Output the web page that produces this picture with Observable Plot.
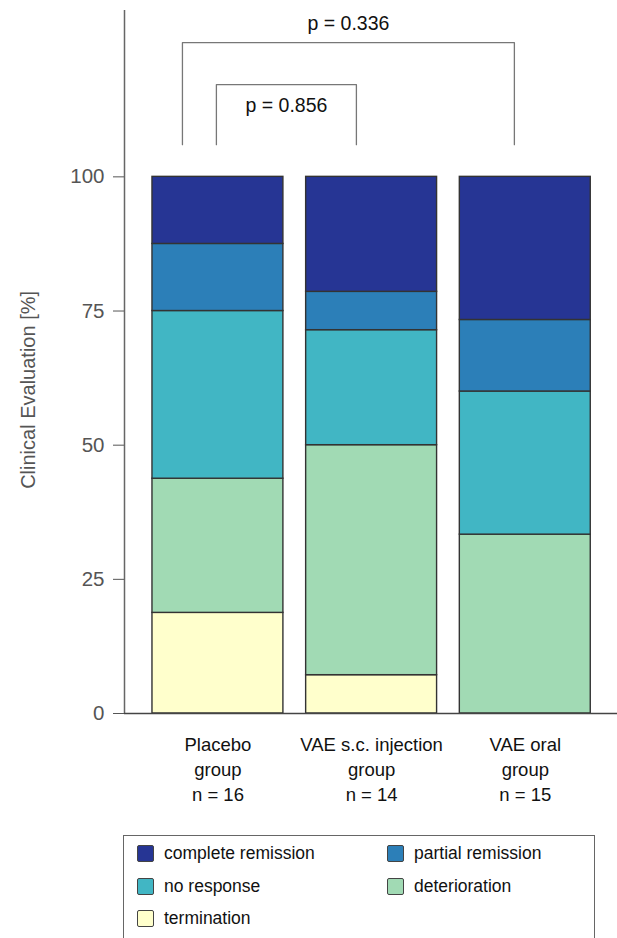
<!DOCTYPE html>
<html>
<head>
<meta charset="utf-8">
<script src="https://cdn.jsdelivr.net/npm/d3@7"></script>
<script src="https://cdn.jsdelivr.net/npm/@observablehq/plot@0.6"></script>
<style>
  body { margin: 0; background: #fff; font-family: "Liberation Sans", Arial, sans-serif; }
  #wrap { position: relative; width: 617px; height: 938px; overflow: hidden; }
  #legend { position: absolute; left: 123px; top: 835px; width: 472px; height: 120px;
    border: 1.5px solid #666; box-sizing: border-box; }
  .item { position: absolute; display: flex; align-items: center; font-size: 17.5px; color: #111; }
  .sw { width: 17px; height: 17px; border: 1.5px solid #444; border-radius: 2px; margin-right: 10px; box-sizing: border-box; }
</style>
</head>
<body>
<div id="wrap">
  <div id="chart"></div>
  <div id="legend"></div>
</div>
<script>
// ---- data ----
const groups = ["Placebo group", "VAE s.c. injection group", "VAE oral group"];
const groupLines = [["Placebo", "group", "n = 16"], ["VAE s.c. injection", "group", "n = 14"], ["VAE oral", "group", "n = 15"]];
const outcomes = ["termination", "deterioration", "no response", "partial remission", "complete remission"];
const colors = ["#ffffcc", "#a1dab4", "#41b6c4", "#2c7fb8", "#263594"];
// percentages (bottom to top) per group
const placebo = [18.75, 25.0, 31.25, 12.5, 12.5];
const vaeSc = [7.14, 42.86, 21.43, 7.14, 21.43];
const vaeOral = [0, 33.33, 26.67, 13.33, 26.67];
const yTicks = [0, 25, 50, 75, 100];
const pLabels = ["p = 0.336", "p = 0.856"];

const series = [placebo, vaeSc, vaeOral];
const table = [];
series.forEach((vals, gi) => vals.forEach((v, oi) => table.push({gi, group: groups[gi], outcome: outcomes[oi], value: v})));

// bracket annotations (group index + offset within group)
const brackets = [
  {a: -0.231, b: 1.929, top: 125, leg: 106, label: pLabels[0], ty: 128.6},
  {a: -0.01, b: 0.901, top: 117.2, leg: 106, label: pLabels[1], ty: 113.3}
];
const bracketLines = [];
brackets.forEach((br, i) => {
  bracketLines.push({id: i, x: br.a, y: br.leg}, {id: i, x: br.a, y: br.top}, {id: i, x: br.b, y: br.top}, {id: i, x: br.b, y: br.leg});
});

const half = 0.426;
const xDomain = [-0.608, 2.60];

const plot = Plot.plot({
  width: 617,
  height: 820,
  marginLeft: 124,
  marginRight: 0,
  marginTop: 10,
  marginBottom: 107,
  style: {fontFamily: "'Liberation Sans', Arial, sans-serif", background: "transparent"},
  x: {domain: xDomain, axis: null},
  y: {domain: [0, 131], axis: null},
  color: {domain: outcomes, range: colors},
  marks: [
    Plot.rectY(table, {
      x1: d => d.gi - half, x2: d => d.gi + half, y: "value", fill: "outcome",
      order: outcomes, stroke: "#333", strokeWidth: 1.4
    }),
    Plot.axisY({ticks: yTicks, tickSize: 11, tickPadding: 9, fontSize: 20.5, color: "#555", fontWeight: 300}),
    Plot.ruleX([xDomain[0]], {stroke: "#666", strokeWidth: 1.5}),
    Plot.ruleY([0], {stroke: "#444", strokeWidth: 1.5}),
    Plot.text(["Clinical Evaluation [%]"], {frameAnchor: "left", y: () => 60.3, dx: -96, rotate: -90, fontSize: 20, fill: "#555", textAnchor: "middle"}),
    Plot.text(groupLines, {x: (d, i) => i, text: d => d.join("\n"), frameAnchor: "bottom", lineAnchor: "top", dy: 20, fontSize: 18.5, lineHeight: 1.35, fill: "#111"}),
    Plot.line(bracketLines, {x: "x", y: "y", z: "id", stroke: "#777", strokeWidth: 1.3}),
    Plot.text(brackets, {x: d => (d.a + d.b) / 2, y: "ty", text: "label", fontSize: 19.5, fill: "#111"})
  ]
});
document.getElementById("chart").appendChild(plot);

// legend
const legendOrder = ["complete remission", "partial remission", "no response", "deterioration", "termination"];
const lg = document.getElementById("legend");
legendOrder.forEach((name, i) => {
  const col = i % 2, row = Math.floor(i / 2);
  const el = document.createElement("div");
  el.className = "item";
  el.style.left = (col === 0 ? 13 : 263) + "px";
  el.style.top = (7 + row * 32.5) + "px";
  const sw = document.createElement("div");
  sw.className = "sw";
  sw.style.background = colors[outcomes.indexOf(name)];
  el.appendChild(sw);
  el.appendChild(document.createTextNode(name));
  lg.appendChild(el);
});
</script>
</body>
</html>
